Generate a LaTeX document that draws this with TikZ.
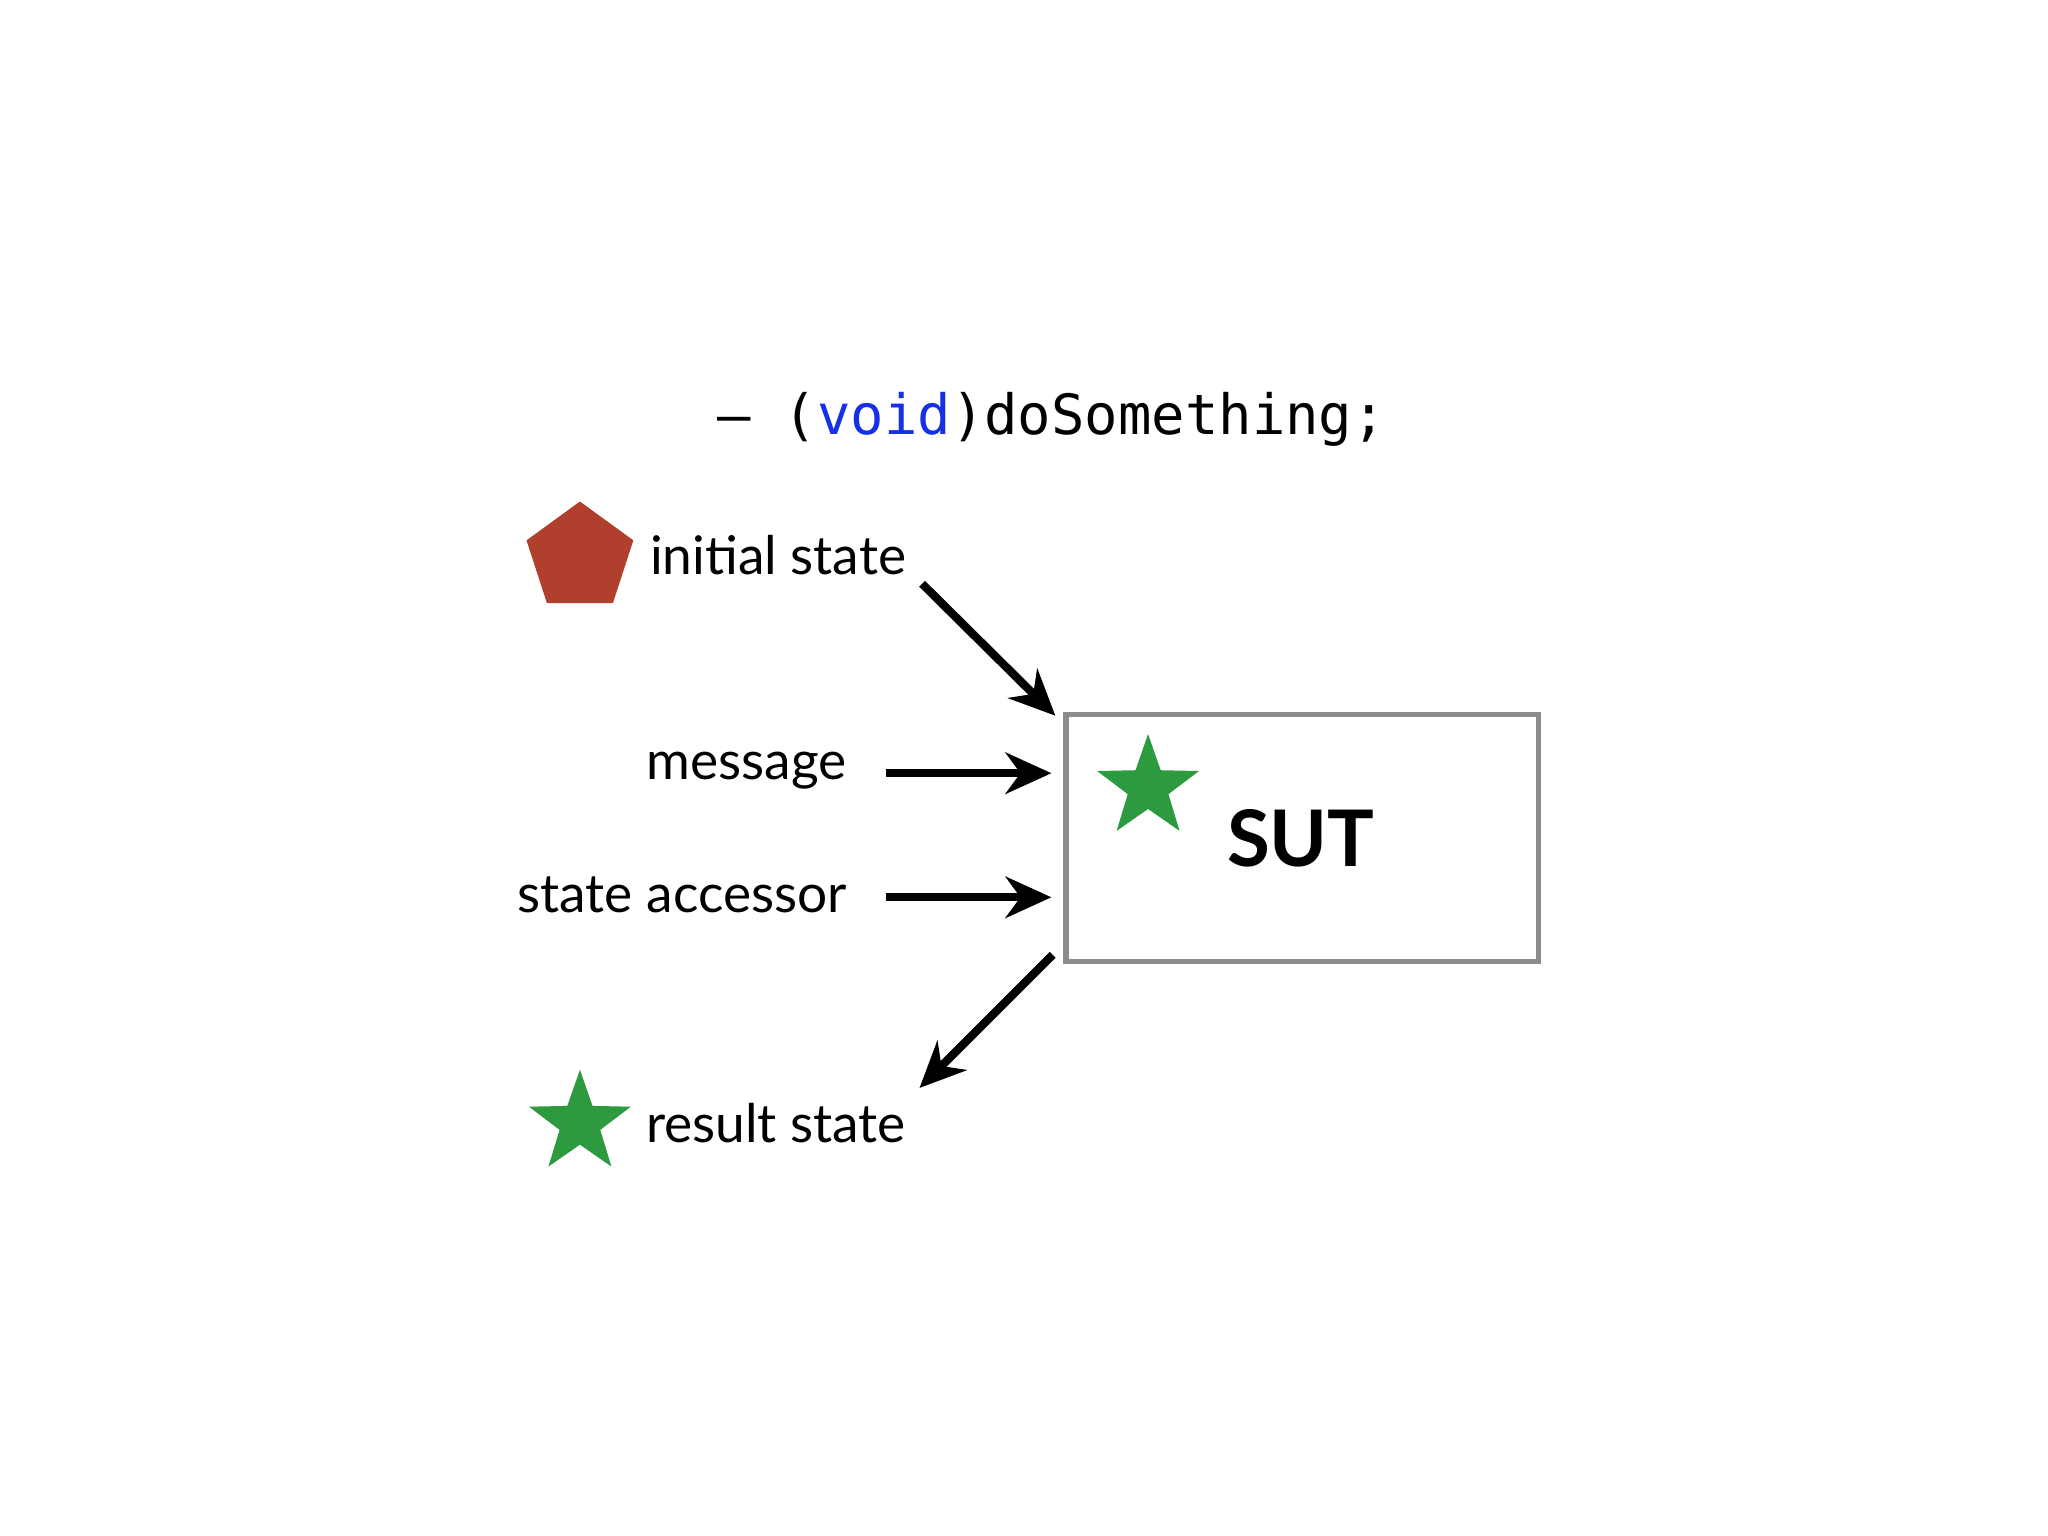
\documentclass[tikz,border=0pt]{standalone}
\usepackage{fontspec}
\setmainfont{Lato}
\newfontfamily\codefont{DejaVu Sans Mono}
\usetikzlibrary{shapes.geometric,arrows.meta}
\definecolor{pent}{HTML}{B03F2E}
\definecolor{stargreen}{HTML}{2E9A40}
\definecolor{kw}{HTML}{1530E6}
\tikzset{
  lbl/.style={font=\fontsize{11.6}{14}\selectfont, inner sep=0pt},
  arr/.style={line width=1.8pt, -{Stealth[length=10pt,width=9pt]}},
  starshape/.style={star, star points=5, star point ratio=2.5, fill=stargreen, minimum size=0.82cm, inner sep=0pt}
}
\begin{document}
\begin{tikzpicture}[x=1cm,y=1cm]
\useasboundingbox (0,0) rectangle (15.68,11.76);
\node[font=\codefont\fontsize{12.1}{14}\selectfont, inner sep=0pt] (title) at (8.05,8.55) {– (\textcolor{kw}{void})doSomething;};
\node[regular polygon, regular polygon sides=5, fill=pent, minimum size=0.86cm, inner sep=0pt] (pent) at (4.44,7.49) {};
\node[lbl, anchor=west] (init) at (4.97,7.51) {initial state};
\node[lbl, anchor=east] (msg) at (6.49,5.86) {message};
\node[lbl, anchor=east] (acc) at (6.49,4.91) {state accessor};
\node[starshape] (rstar) at (4.44,3.16) {};
\node[lbl, anchor=west] (res) at (4.94,3.16) {result state};
\node[draw=gray!90, line width=1.2pt, minimum width=3.62cm, minimum height=1.89cm, inner sep=0pt] (box) at (9.97,5.345) {};
\node[starshape] (bstar) at (8.79,5.73) {};
\node[font=\bfseries\fontsize{17}{20}\selectfont, inner sep=0pt] (sut) at (9.96,5.34) {SUT};
\coordinate (a1s) at (7.06,7.29); \coordinate (a1e) at (8.08,6.28);
\coordinate (a2s) at (6.78,5.84); \coordinate (a2e) at (8.05,5.84);
\coordinate (a3s) at (6.78,4.89); \coordinate (a3e) at (8.05,4.89);
\coordinate (a4s) at (8.06,4.45); \coordinate (a4e) at (7.04,3.43);
\draw[arr] (a1s) -- (a1e);
\draw[arr] (a2s) -- (a2e);
\draw[arr] (a3s) -- (a3e);
\draw[arr] (a4s) -- (a4e);
\end{tikzpicture}
\end{document}
